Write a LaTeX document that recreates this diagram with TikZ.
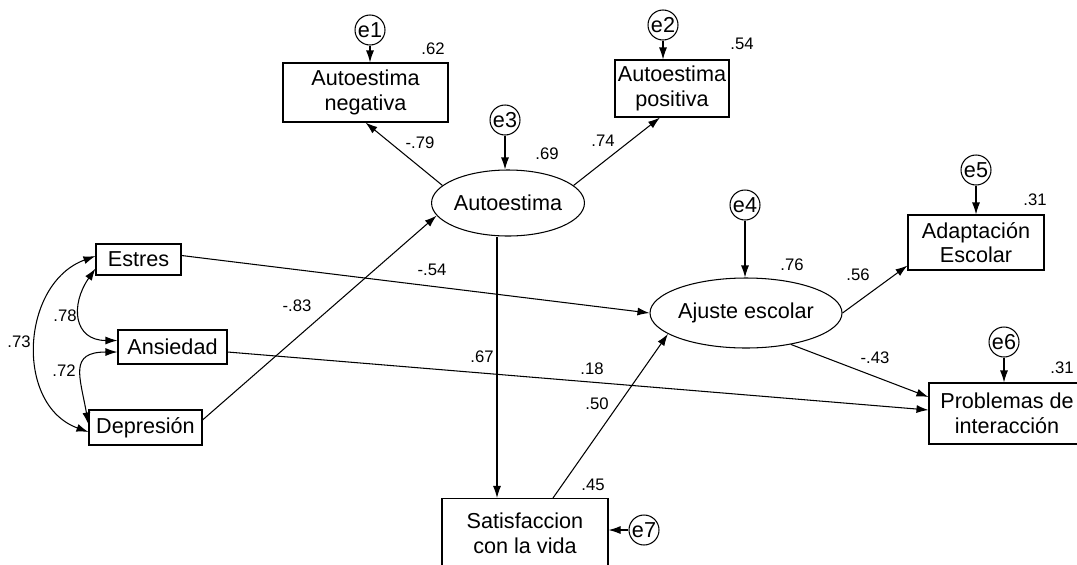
\documentclass[tikz,border=0pt]{standalone}
\usepackage{fontspec}
\setmainfont{Liberation Sans}
\usetikzlibrary{arrows.meta,shapes.geometric}
\tikzset{
	obs/.style={draw,rectangle,align=center,inner sep=0pt,font=\fontsize{12.3}{14}\selectfont},
	lat/.style={draw,ellipse,inner sep=0pt,font=\fontsize{12.3}{14}\selectfont},
	err/.style={draw,circle,inner sep=0pt,minimum size=0.6cm,font=\fontsize{12.3}{14}\selectfont},
	coef/.style={inner sep=0pt,font=\fontsize{9.5}{11}\selectfont},
	>={Latex[length=2.4mm,width=1.6mm]}
}
\begin{document}
\begin{tikzpicture}[line width=0.6pt]
	\useasboundingbox (0,0) rectangle (21.54,-11.28);
	\clip (0,0) rectangle (21.54,-11.28);
	% observed variables
	\node[obs,minimum width=3.30cm,minimum height=1.18cm] at (7.31,-1.85) (neg) {Autoestima\\negativa};
	\node[obs,minimum width=2.28cm,minimum height=1.14cm] at (13.44,-1.77) (pos) {Autoestima\\positiva};
	\node[obs,minimum width=1.70cm,minimum height=0.62cm] at (2.77,-5.19) (estres) {Estres};
	\node[obs,minimum width=2.18cm,minimum height=0.68cm] at (3.45,-6.94) (ansiedad) {Ansiedad};
	\node[obs,minimum width=2.26cm,minimum height=0.70cm] at (2.91,-8.55) (depresion) {Depresión};
	\node[obs,minimum width=2.72cm,minimum height=1.10cm] at (19.52,-4.85) (adapt) {Adaptación\\Escolar};
	\node[obs,minimum width=3.12cm,minimum height=1.22cm] at (20.14,-8.27) (problemas) {Problemas de\\interacción};
	\node[obs,minimum width=3.32cm,minimum height=1.38cm] at (10.50,-10.66) (satisf) {Satisfaccion\\con la vida};
	% latent variables
	\node[lat,minimum width=3.04cm,minimum height=1.32cm] at (10.16,-4.06) (autoestima) {Autoestima};
	\node[lat,minimum width=3.72cm,minimum height=1.40cm] at (14.92,-6.26) (ajuste) {Ajuste escolar};
	% errors
	\node[err] at (7.40,-0.60) (e1) {e1};
	\node[err] at (13.26,-0.50) (e2) {e2};
	\node[err] at (10.10,-2.40) (e3) {e3};
	\node[err] at (14.90,-4.10) (e4) {e4};
	\node[err] at (19.52,-3.40) (e5) {e5};
	\node[err] at (20.08,-6.84) (e6) {e6};
	\node[err] at (12.88,-10.60) (e7) {e7};
	\draw[->] (e1.south) -- (e1.south |- neg.north);
	\draw[->] (e2.south) -- (e2.south |- pos.north);
	\draw[->] (e3.south) -- (e3.south |- autoestima.north);
	\draw[->] (e4.south) -- (e4.south |- ajuste.north);
	\draw[->] (e5.south) -- (e5.south |- adapt.north);
	\draw[->] (e6.south) -- (e6.south |- problemas.north);
	\draw[->] (e7.west) -- (e7.west -| satisf.east);
	% paths
	\draw[->] (autoestima.165) -- (neg.south);
	\draw[->] (autoestima.15) -- ([xshift=-0.24cm]pos.south);
	\draw[->] ([yshift=0.15cm]depresion.east) -- (autoestima.190);
	\draw[->] ([xshift=-0.22cm]autoestima.south) -- ([xshift=-0.22cm]autoestima.south |- satisf.north);
	\draw[->] ([yshift=0.08cm]estres.east) -- (ajuste.west);
	\draw[->] ([yshift=-0.1cm]ansiedad.east) -- ([yshift=0.07cm]problemas.west);
	\draw[->] ([xshift=0.56cm]satisf.north) -- (ajuste.195);
	\draw[->] (ajuste.east) -- ([yshift=0.1cm]adapt.south west);
	\draw[->] (ajuste.-35) -- ([yshift=0.33cm]problemas.west);
	% covariances
	\draw[<->] ([yshift=0.14cm]estres.south west) to[out=235,in=180,looseness=1.5] ([yshift=0.13cm]ansiedad.west);
	\draw[<->] ([yshift=-0.1cm]ansiedad.west) to[out=180,in=100,looseness=1.6] ([yshift=-0.3cm]depresion.north west);
	\draw[<->] ([yshift=0.07cm]estres.west) to[out=200,in=160,looseness=1.15] ([yshift=-0.09cm]depresion.west);
	% coefficients
	\node[coef] at (8.66,-0.98) (r1) {.62};
	\node[coef] at (14.84,-0.88) (r2) {.54};
	\node[coef] at (10.94,-3.08) (r3) {.69};
	\node[coef] at (15.84,-5.30) (r4) {.76};
	\node[coef] at (20.70,-4.00) (r5) {.31};
	\node[coef] at (21.24,-7.36) (r6) {.31};
	\node[coef] at (11.86,-9.70) (r7) {.45};
	\node[coef] at (8.40,-2.86) (b1) {-.79};
	\node[coef] at (12.06,-2.82) (b2) {.74};
	\node[coef] at (8.64,-5.40) (b3) {-.54};
	\node[coef] at (5.94,-6.12) (b4) {-.83};
	\node[coef] at (9.64,-7.14) (b5) {.67};
	\node[coef] at (11.84,-7.38) (b6) {.18};
	\node[coef] at (11.94,-8.08) (b7) {.50};
	\node[coef] at (17.16,-5.50) (b8) {.56};
	\node[coef] at (17.50,-7.16) (b9) {-.43};
	\node[coef] at (1.30,-6.32) (c1) {.78};
	\node[coef] at (0.38,-6.84) (c2) {.73};
	\node[coef] at (1.28,-7.42) (c3) {.72};
\end{tikzpicture}
\end{document}
